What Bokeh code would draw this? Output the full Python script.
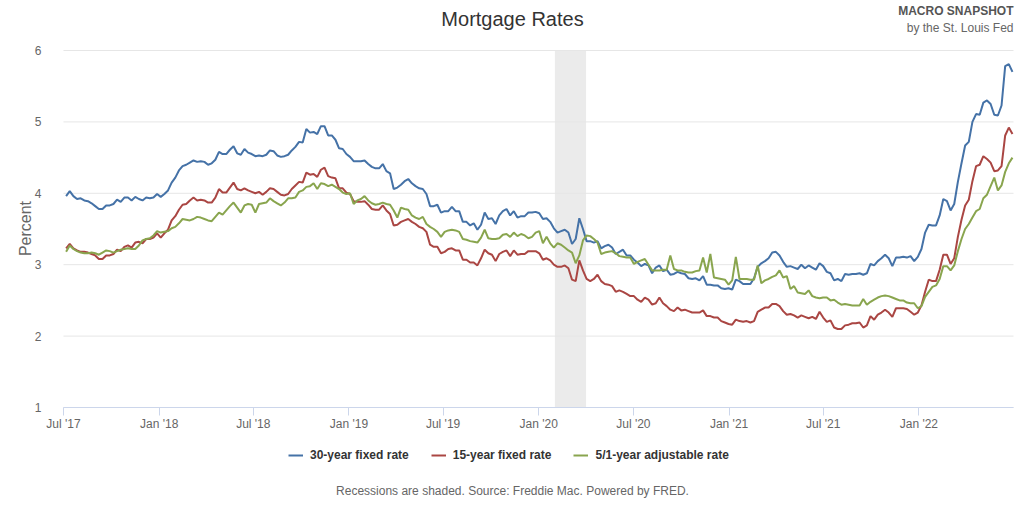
import math
import pandas as pd
from bokeh.plotting import figure
from bokeh.models import (Range1d, FixedTicker, DatetimeTickFormatter, BoxAnnotation,
                          Label, Legend, LegendItem)
from bokeh.embed import file_html
from bokeh.resources import INLINE

# ---------------- data (weekly, Freddie Mac PMMS) ----------------
first_week = "2017-07-06"

rate_30yr = [
    # 2017
    3.96, 4.03, 3.96, 3.92, 3.93, 3.90, 3.89, 3.86, 3.82, 3.78, 3.78, 3.83, 3.83, 3.85, 3.91, 3.88,
    3.94, 3.94, 3.90, 3.95, 3.92, 3.90, 3.94, 3.93, 3.94, 3.99,
    # 2018
    3.95, 3.99, 4.04, 4.15, 4.22, 4.32, 4.38, 4.40, 4.43, 4.46, 4.44, 4.45, 4.44, 4.40, 4.42, 4.47,
    4.58, 4.55, 4.55, 4.61, 4.66, 4.56, 4.54, 4.62, 4.57, 4.55, 4.52, 4.53, 4.52, 4.54, 4.60, 4.59,
    4.53, 4.51, 4.52, 4.54, 4.60, 4.65, 4.72, 4.71, 4.90, 4.85, 4.86, 4.83, 4.94, 4.94, 4.81, 4.81,
    4.75, 4.63, 4.62, 4.55,
    # 2019
    4.51, 4.45, 4.45, 4.45, 4.46, 4.41, 4.37, 4.35, 4.35, 4.41, 4.31, 4.28, 4.06, 4.08, 4.12, 4.17,
    4.20, 4.14, 4.10, 4.07, 4.06, 3.99, 3.82, 3.82, 3.84, 3.73, 3.75, 3.75, 3.81, 3.75, 3.75, 3.60,
    3.60, 3.55, 3.58, 3.49, 3.56, 3.73, 3.64, 3.65, 3.57, 3.69, 3.75, 3.78, 3.69, 3.75, 3.66, 3.68,
    3.68, 3.73, 3.73, 3.74,
    # 2020
    3.72, 3.64, 3.65, 3.60, 3.51, 3.45, 3.47, 3.49, 3.45, 3.29, 3.36, 3.65, 3.50, 3.33, 3.33, 3.31,
    3.33, 3.23, 3.26, 3.28, 3.24, 3.15, 3.18, 3.21, 3.13, 3.13, 3.07, 3.03, 2.98, 3.01, 2.99, 2.88,
    2.96, 2.99, 2.91, 2.93, 2.86, 2.87, 2.90, 2.88, 2.87, 2.81, 2.80, 2.81, 2.78, 2.84, 2.72, 2.72,
    2.71, 2.71, 2.67, 2.66, 2.67,
    # 2021
    2.65, 2.79, 2.77, 2.73, 2.73, 2.73, 2.81, 2.97, 3.02, 3.05, 3.09, 3.17, 3.18, 3.13, 3.04, 2.97,
    2.98, 2.96, 2.94, 3.00, 2.95, 2.99, 2.96, 2.93, 3.02, 2.98, 2.90, 2.88, 2.78, 2.80, 2.77, 2.87,
    2.86, 2.87, 2.87, 2.88, 2.86, 2.88, 3.01, 2.99, 3.05, 3.09, 3.14, 3.09, 2.98, 3.10, 3.10, 3.11,
    3.10, 3.12, 3.05, 3.11,
    # 2022
    3.22, 3.45, 3.56, 3.55, 3.55, 3.69, 3.92, 3.89, 3.76, 3.85, 4.16, 4.42, 4.67, 4.72, 5.00, 5.11,
    5.10, 5.27, 5.30, 5.25, 5.10, 5.09, 5.23, 5.78, 5.81, 5.70,
]

rate_15yr = [
    # 2017
    3.23, 3.29, 3.23, 3.20, 3.18, 3.18, 3.17, 3.15, 3.13, 3.08, 3.08, 3.13, 3.13, 3.15, 3.21, 3.19,
    3.25, 3.27, 3.24, 3.31, 3.32, 3.30, 3.36, 3.36, 3.38, 3.44,
    # 2018
    3.38, 3.44, 3.49, 3.62, 3.68, 3.77, 3.84, 3.85, 3.90, 3.94, 3.90, 3.91, 3.90, 3.87, 3.87, 3.94,
    4.06, 4.01, 4.01, 4.08, 4.15, 4.06, 4.04, 4.07, 4.04, 4.02, 4.00, 4.02, 3.98, 4.02, 4.07, 4.06,
    4.02, 3.98, 3.97, 3.99, 4.06, 4.11, 4.16, 4.15, 4.29, 4.26, 4.27, 4.23, 4.33, 4.36, 4.24, 4.22,
    4.21, 4.07, 4.07, 4.01,
    # 2019
    3.99, 3.89, 3.88, 3.88, 3.89, 3.84, 3.78, 3.77, 3.77, 3.83, 3.76, 3.71, 3.55, 3.56, 3.60, 3.62,
    3.64, 3.60, 3.57, 3.53, 3.51, 3.46, 3.28, 3.25, 3.25, 3.16, 3.18, 3.22, 3.23, 3.20, 3.20, 3.07,
    3.07, 3.03, 3.03, 2.99, 3.09, 3.21, 3.16, 3.14, 3.05, 3.15, 3.18, 3.20, 3.12, 3.20, 3.14, 3.15,
    3.15, 3.19, 3.19, 3.19,
    # 2020
    3.16, 3.07, 3.09, 3.06, 3.00, 2.97, 2.97, 2.99, 2.95, 2.79, 2.77, 3.06, 2.92, 2.80, 2.77, 2.80,
    2.86, 2.77, 2.73, 2.72, 2.70, 2.62, 2.64, 2.62, 2.59, 2.56, 2.56, 2.51, 2.48, 2.54, 2.51, 2.44,
    2.46, 2.54, 2.46, 2.42, 2.37, 2.35, 2.40, 2.36, 2.37, 2.35, 2.33, 2.33, 2.33, 2.36, 2.28, 2.28,
    2.26, 2.26, 2.21, 2.19, 2.17,
    # 2021
    2.16, 2.23, 2.21, 2.20, 2.21, 2.19, 2.21, 2.34, 2.37, 2.40, 2.40, 2.45, 2.45, 2.42, 2.35, 2.30,
    2.31, 2.29, 2.26, 2.29, 2.27, 2.25, 2.27, 2.24, 2.34, 2.26, 2.20, 2.22, 2.12, 2.10, 2.10, 2.15,
    2.16, 2.18, 2.18, 2.19, 2.12, 2.15, 2.28, 2.23, 2.30, 2.33, 2.37, 2.33, 2.27, 2.39, 2.39, 2.39,
    2.38, 2.34, 2.30, 2.33,
    # 2022
    2.43, 2.62, 2.79, 2.77, 2.77, 2.93, 3.14, 3.14, 3.01, 3.09, 3.39, 3.63, 3.83, 3.91, 4.17, 4.38,
    4.40, 4.52, 4.48, 4.43, 4.31, 4.32, 4.38, 4.81, 4.92, 4.83,
]

rate_arm51 = [
    # 2017
    3.18, 3.27, 3.22, 3.19, 3.17, 3.16, 3.16, 3.17, 3.16, 3.14, 3.17, 3.20, 3.19, 3.17, 3.19, 3.21,
    3.22, 3.23, 3.22, 3.22, 3.27, 3.34, 3.36, 3.37, 3.41, 3.47,
    # 2018
    3.45, 3.46, 3.47, 3.51, 3.53, 3.58, 3.64, 3.63, 3.62, 3.64, 3.67, 3.66, 3.64, 3.62, 3.61, 3.67,
    3.73, 3.70, 3.76, 3.82, 3.87, 3.80, 3.73, 3.83, 3.85, 3.84, 3.73, 3.85, 3.86, 3.87, 3.93, 3.89,
    3.86, 3.83, 3.87, 3.93, 3.93, 3.94, 4.02, 4.04, 4.09, 4.10, 4.14, 4.06, 4.14, 4.13, 4.10, 4.12,
    4.09, 4.06, 4.01, 3.99,
    # 2019
    4.00, 3.85, 3.90, 3.92, 3.96, 3.90, 3.86, 3.84, 3.85, 3.87, 3.85, 3.84, 3.76, 3.66, 3.80, 3.78,
    3.77, 3.69, 3.66, 3.64, 3.67, 3.57, 3.53, 3.50, 3.46, 3.39, 3.46, 3.48, 3.49, 3.48, 3.46, 3.36,
    3.35, 3.33, 3.32, 3.31, 3.38, 3.49, 3.37, 3.36, 3.36, 3.37, 3.42, 3.43, 3.39, 3.45, 3.40, 3.43,
    3.41, 3.37, 3.39, 3.45,
    # 2020
    3.47, 3.30, 3.39, 3.30, 3.24, 3.30, 3.28, 3.24, 3.20, 3.17, 3.02, 3.13, 3.34, 3.41, 3.40, 3.36,
    3.31, 3.15, 3.17, 3.18, 3.19, 3.16, 3.12, 3.11, 3.10, 3.10, 3.01, 3.04, 3.06, 3.08, 3.00, 2.92,
    2.92, 2.92, 2.93, 2.93, 3.13, 2.94, 2.92, 2.92, 2.90, 2.89, 2.89, 2.91, 2.92, 3.10, 2.89, 3.15,
    2.82, 2.81, 2.80, 2.79, 2.72,
    # 2021
    2.78, 3.11, 2.80, 2.80, 2.80, 2.79, 2.79, 2.99, 2.74, 2.78, 2.80, 2.83, 2.85, 2.92, 2.82, 2.84,
    2.66, 2.70, 2.61, 2.60, 2.59, 2.64, 2.56, 2.54, 2.53, 2.54, 2.54, 2.50, 2.51, 2.47, 2.44, 2.45,
    2.44, 2.43, 2.43, 2.43, 2.52, 2.44, 2.48, 2.51, 2.54, 2.56, 2.57, 2.56, 2.54, 2.52, 2.50, 2.50,
    2.47, 2.46, 2.46, 2.39,
    # 2022
    2.42, 2.55, 2.62, 2.69, 2.71, 2.80, 2.98, 2.98, 2.92, 2.99, 3.19, 3.36, 3.50, 3.57, 3.66, 3.75,
    3.78, 3.93, 3.98, 4.10, 4.22, 4.04, 4.11, 4.30, 4.42, 4.50,
]

series_names = ["30-year fixed rate", "15-year fixed rate", "5/1-year adjustable rate"]
series_colors = ["#4572A7", "#AA4643", "#89A54E"]

x_tick_dates = ["2017-07-01", "2018-01-01", "2018-07-01", "2019-01-01", "2019-07-01",
                "2020-01-01", "2020-07-01", "2021-01-01", "2021-07-01", "2022-01-01"]
y_ticks = [1, 2, 3, 4, 5, 6]
recession = ("2020-02-01", "2020-04-01")
x_start, x_end = "2017-07-01", "2022-07-02"

FONT = "Liberation Sans"
GREY = "#666666"

# ---------------- layout (pixels) ----------------
W, H = 1024, 512
PLOT_L, PLOT_R = 63, 1013        # pixel columns of the plotting area
Y_TOP_PX, Y_BOT_PX = 50, 407     # pixel rows of the 6 and 1 gridlines

# the frame covers the whole canvas; the plotting area is a sub-rectangle of it
t0, t1 = pd.Timestamp(x_start), pd.Timestamp(x_end)
ms_per_px = (t1 - t0) / (PLOT_R - PLOT_L)
x_lo, x_hi = t0 - ms_per_px * PLOT_L, t1 + ms_per_px * (W - PLOT_R)
per_px = (y_ticks[-1] - y_ticks[0]) / (Y_BOT_PX - Y_TOP_PX)
y_lo = y_ticks[0] - (H - Y_BOT_PX) * per_px
y_hi = y_ticks[-1] + Y_TOP_PX * per_px

p = figure(width=W, height=H, x_axis_type="datetime",
           output_backend="svg", toolbar_location=None,
           x_range=Range1d(x_lo, x_hi), y_range=Range1d(y_lo, y_hi),
           min_border_left=0, min_border_right=0, min_border_top=0, min_border_bottom=0)
p.outline_line_color = None
p.background_fill_color = "white"
p.border_fill_color = "white"

# recession shading (between the 1 and 6 gridlines)
p.add_layout(BoxAnnotation(left=pd.Timestamp(recession[0]), right=pd.Timestamp(recession[1]),
                           bottom=y_ticks[0], top=y_ticks[-1],
                           fill_color="#EBEBEB", fill_alpha=1.0, line_color=None, level="underlay"))

# horizontal gridlines limited to the plotting area
p.segment(x0=[t0] * len(y_ticks), y0=y_ticks, x1=[t1] * len(y_ticks), y1=y_ticks,
          line_color="#E6E6E6", line_width=1)

items = []
for vals, name, col in zip([rate_30yr, rate_15yr, rate_arm51], series_names, series_colors):
    d = pd.date_range(first_week, periods=len(vals), freq="7D")
    r = p.line(d, vals, line_color=col, line_width=2)
    items.append(LegendItem(label=name, renderers=[r]))

# x axis drawn at value 1, spanning only the plotting area
xa = p.xaxis[0]
xa.fixed_location = y_ticks[0]
xa.bounds = (t0.timestamp() * 1000, t1.timestamp() * 1000)
xa.ticker = FixedTicker(ticks=[pd.Timestamp(t).timestamp() * 1000 for t in x_tick_dates])
xa.formatter = DatetimeTickFormatter(years="%b '%y", months="%b '%y", days="%b '%y",
                                     hours="%b '%y", minutes="%b '%y")
xa.axis_line_color = "#CCD6EB"
xa.major_tick_line_color = "#CCD6EB"
xa.major_tick_out = 8
xa.major_tick_in = 0
xa.minor_tick_line_color = None
xa.major_label_text_font = FONT
xa.major_label_text_font_size = "12px"
xa.major_label_text_color = GREY
xa.major_label_standoff = 1

# y axis drawn at the left edge of the plotting area
ya = p.yaxis[0]
ya.fixed_location = t0.timestamp() * 1000
ya.ticker = FixedTicker(ticks=y_ticks)
ya.axis_line_color = None
ya.major_tick_line_color = None
ya.minor_tick_line_color = None
ya.major_label_text_font = FONT
ya.major_label_text_font_size = "12px"
ya.major_label_text_color = GREY
ya.major_label_standoff = 16

p.xgrid.grid_line_color = None
p.ygrid.grid_line_color = None

# legend below the axis (screen units from frame left / frame bottom)
legend = Legend(items=items, orientation="horizontal", location=(288, H - 463),
                padding=0, margin=0, spacing=22, label_standoff=7,
                glyph_width=15, glyph_height=16, label_height=16,
                label_text_font=FONT, label_text_font_size="12px",
                label_text_font_style="bold", label_text_color="#333333",
                background_fill_alpha=0, border_line_color=None)
p.add_layout(legend, "center")

def add_text(x, y, text, size, align="center", style="normal", color=GREY, angle=0.0):
    p.add_layout(Label(x=x, y=H - y, x_units="screen", y_units="screen", text=text,
                       angle=angle, text_align=align, text_baseline="middle", text_font=FONT,
                       text_font_size=size, text_font_style=style, text_color=color))

add_text(512, 18, "Mortgage Rates", "20px", color="#333333")
add_text(1013, 10, "MACRO SNAPSHOT", "12px", align="right", style="bold", color="#555555")
add_text(1013, 27, "by the St. Louis Fed", "12px", align="right")
add_text(25, 228, "Percent", "16px", angle=math.pi / 2)
add_text(512, 490, "Recessions are shaded. Source: Freddie Mac. Powered by FRED.", "12px")

open("out.html", "w").write(file_html(p, INLINE))
